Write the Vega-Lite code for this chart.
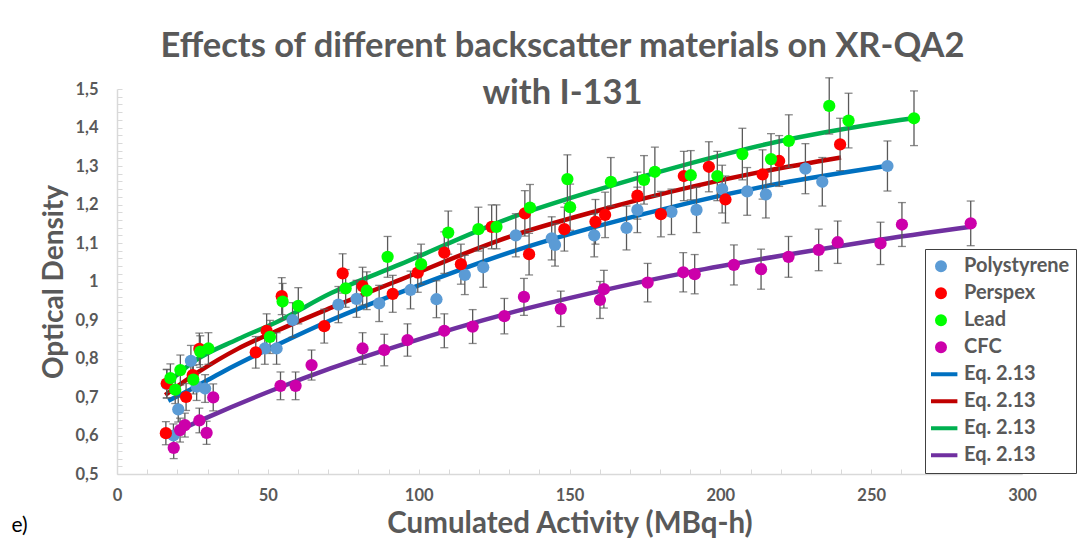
{
  "$schema": "https://vega.github.io/schema/vega-lite/v6.json",
  "width": 905,
  "height": 385,
  "autosize": {"type": "none"},
  "padding": {"left": 117, "top": 89, "right": 63, "bottom": 72},
  "background": "white",
  "config": {
    "view": {"stroke": null},
    "font": "Lato",
    "axisX": {
      "labelOverlap": false, "labelFlush": false,
      "labelFont": "Lato", "labelFontSize": 16.5, "labelFontWeight": "bold", "labelColor": "#595959",
      "labelPadding": 18,
      "titleFont": "Lato", "titleFontSize": 29.5, "titleFontWeight": "bold", "titleColor": "#595959",
      "titlePadding": 6,
      "domainColor": "#D9D9D9", "domainWidth": 1.5, "tickColor": "#D9D9D9", "tickSize": -5, "grid": false
    },
    "axisY": {
      "labelOverlap": false, "labelFlush": false,
      "labelFont": "Lato", "labelFontSize": 16.5, "labelFontWeight": "bold", "labelColor": "#595959",
      "labelPadding": 24,
      "titleFont": "Lato", "titleFontSize": 28, "titleFontWeight": "bold", "titleColor": "#595959",
      "titlePadding": 6,
      "domainColor": "#D9D9D9", "domainWidth": 1.5, "tickColor": "#D9D9D9", "tickSize": -5, "grid": false
    }
  },
  "title": {
    "text": ["Effects of different backscatter materials on XR-QA2", "with I-131"],
    "font": "Lato", "fontSize": 34.5, "fontWeight": "bold", "color": "#595959",
    "anchor": "middle", "lineHeight": 47, "offset": -34, "dx": -7
  },
  "datasets": {
    "pts": [
      {"k": "Polystyrene", "x": 16.5, "y": 0.734, "e": 0.037},
      {"k": "Polystyrene", "x": 18.7, "y": 0.6, "e": 0.03},
      {"k": "Polystyrene", "x": 20.3, "y": 0.668, "e": 0.033},
      {"k": "Polystyrene", "x": 24.5, "y": 0.794, "e": 0.04},
      {"k": "Polystyrene", "x": 26.4, "y": 0.727, "e": 0.036},
      {"k": "Polystyrene", "x": 29.2, "y": 0.722, "e": 0.036},
      {"k": "Polystyrene", "x": 49, "y": 0.826, "e": 0.041},
      {"k": "Polystyrene", "x": 52.9, "y": 0.826, "e": 0.041},
      {"k": "Polystyrene", "x": 58.2, "y": 0.9, "e": 0.045},
      {"k": "Polystyrene", "x": 73.4, "y": 0.94, "e": 0.047},
      {"k": "Polystyrene", "x": 79.4, "y": 0.955, "e": 0.048},
      {"k": "Polystyrene", "x": 86.9, "y": 0.943, "e": 0.047},
      {"k": "Polystyrene", "x": 97.3, "y": 0.978, "e": 0.049},
      {"k": "Polystyrene", "x": 105.9, "y": 0.954, "e": 0.048},
      {"k": "Polystyrene", "x": 115.3, "y": 1.017, "e": 0.051},
      {"k": "Polystyrene", "x": 121.4, "y": 1.037, "e": 0.052},
      {"k": "Polystyrene", "x": 132.2, "y": 1.12, "e": 0.056},
      {"k": "Polystyrene", "x": 144.1, "y": 1.112, "e": 0.056},
      {"k": "Polystyrene", "x": 145.2, "y": 1.095, "e": 0.055},
      {"k": "Polystyrene", "x": 158.2, "y": 1.12, "e": 0.056},
      {"k": "Polystyrene", "x": 168.9, "y": 1.139, "e": 0.057},
      {"k": "Polystyrene", "x": 172.5, "y": 1.186, "e": 0.059},
      {"k": "Polystyrene", "x": 183.8, "y": 1.181, "e": 0.059},
      {"k": "Polystyrene", "x": 192.1, "y": 1.186, "e": 0.059},
      {"k": "Polystyrene", "x": 200.6, "y": 1.24, "e": 0.062},
      {"k": "Polystyrene", "x": 208.9, "y": 1.234, "e": 0.062},
      {"k": "Polystyrene", "x": 215.1, "y": 1.226, "e": 0.061},
      {"k": "Polystyrene", "x": 228.2, "y": 1.293, "e": 0.065},
      {"k": "Polystyrene", "x": 233.8, "y": 1.259, "e": 0.063},
      {"k": "Polystyrene", "x": 255.4, "y": 1.3, "e": 0.065},
      {"k": "Perspex", "x": 16.2, "y": 0.606, "e": 0.03},
      {"k": "Perspex", "x": 16.5, "y": 0.735, "e": 0.037},
      {"k": "Perspex", "x": 22.9, "y": 0.7, "e": 0.035},
      {"k": "Perspex", "x": 25.1, "y": 0.757, "e": 0.038},
      {"k": "Perspex", "x": 27.3, "y": 0.825, "e": 0.041},
      {"k": "Perspex", "x": 46, "y": 0.816, "e": 0.041},
      {"k": "Perspex", "x": 49.6, "y": 0.872, "e": 0.044},
      {"k": "Perspex", "x": 54.6, "y": 0.962, "e": 0.048},
      {"k": "Perspex", "x": 68.7, "y": 0.884, "e": 0.044},
      {"k": "Perspex", "x": 74.8, "y": 1.021, "e": 0.051},
      {"k": "Perspex", "x": 81.4, "y": 0.988, "e": 0.049},
      {"k": "Perspex", "x": 91.4, "y": 0.968, "e": 0.048},
      {"k": "Perspex", "x": 99.7, "y": 1.023, "e": 0.051},
      {"k": "Perspex", "x": 108.5, "y": 1.075, "e": 0.054},
      {"k": "Perspex", "x": 114, "y": 1.045, "e": 0.052},
      {"k": "Perspex", "x": 124.2, "y": 1.142, "e": 0.057},
      {"k": "Perspex", "x": 135.2, "y": 1.177, "e": 0.059},
      {"k": "Perspex", "x": 136.6, "y": 1.071, "e": 0.054},
      {"k": "Perspex", "x": 148.3, "y": 1.136, "e": 0.057},
      {"k": "Perspex", "x": 158.6, "y": 1.155, "e": 0.058},
      {"k": "Perspex", "x": 161.8, "y": 1.173, "e": 0.059},
      {"k": "Perspex", "x": 172.5, "y": 1.223, "e": 0.061},
      {"k": "Perspex", "x": 180.3, "y": 1.175, "e": 0.059},
      {"k": "Perspex", "x": 187.9, "y": 1.274, "e": 0.064},
      {"k": "Perspex", "x": 196.2, "y": 1.298, "e": 0.065},
      {"k": "Perspex", "x": 201.7, "y": 1.213, "e": 0.061},
      {"k": "Perspex", "x": 214, "y": 1.278, "e": 0.064},
      {"k": "Perspex", "x": 219.5, "y": 1.313, "e": 0.066},
      {"k": "Perspex", "x": 239.7, "y": 1.356, "e": 0.068},
      {"k": "Lead", "x": 17.7, "y": 0.749, "e": 0.037},
      {"k": "Lead", "x": 19.3, "y": 0.719, "e": 0.036},
      {"k": "Lead", "x": 21, "y": 0.77, "e": 0.039},
      {"k": "Lead", "x": 25.3, "y": 0.745, "e": 0.037},
      {"k": "Lead", "x": 27.6, "y": 0.818, "e": 0.041},
      {"k": "Lead", "x": 30.3, "y": 0.826, "e": 0.041},
      {"k": "Lead", "x": 50.7, "y": 0.856, "e": 0.043},
      {"k": "Lead", "x": 54.9, "y": 0.948, "e": 0.047},
      {"k": "Lead", "x": 60.1, "y": 0.937, "e": 0.047},
      {"k": "Lead", "x": 75.8, "y": 0.982, "e": 0.049},
      {"k": "Lead", "x": 82.8, "y": 0.976, "e": 0.049},
      {"k": "Lead", "x": 89.7, "y": 1.064, "e": 0.053},
      {"k": "Lead", "x": 100.8, "y": 1.045, "e": 0.052},
      {"k": "Lead", "x": 109.8, "y": 1.127, "e": 0.056},
      {"k": "Lead", "x": 119.8, "y": 1.136, "e": 0.057},
      {"k": "Lead", "x": 125.8, "y": 1.142, "e": 0.057},
      {"k": "Lead", "x": 136.9, "y": 1.192, "e": 0.06},
      {"k": "Lead", "x": 149.3, "y": 1.266, "e": 0.063},
      {"k": "Lead", "x": 150.2, "y": 1.193, "e": 0.06},
      {"k": "Lead", "x": 163.7, "y": 1.259, "e": 0.063},
      {"k": "Lead", "x": 174.7, "y": 1.264, "e": 0.063},
      {"k": "Lead", "x": 178.3, "y": 1.285, "e": 0.064},
      {"k": "Lead", "x": 190.2, "y": 1.276, "e": 0.064},
      {"k": "Lead", "x": 199, "y": 1.274, "e": 0.064},
      {"k": "Lead", "x": 207.3, "y": 1.331, "e": 0.067},
      {"k": "Lead", "x": 216.8, "y": 1.318, "e": 0.066},
      {"k": "Lead", "x": 222.7, "y": 1.365, "e": 0.068},
      {"k": "Lead", "x": 236.1, "y": 1.456, "e": 0.073},
      {"k": "Lead", "x": 242.5, "y": 1.418, "e": 0.071},
      {"k": "Lead", "x": 264.2, "y": 1.424, "e": 0.071},
      {"k": "CFC", "x": 18.8, "y": 0.568, "e": 0.028},
      {"k": "CFC", "x": 20.9, "y": 0.614, "e": 0.031},
      {"k": "CFC", "x": 22.5, "y": 0.627, "e": 0.031},
      {"k": "CFC", "x": 27.3, "y": 0.639, "e": 0.032},
      {"k": "CFC", "x": 29.7, "y": 0.607, "e": 0.03},
      {"k": "CFC", "x": 31.9, "y": 0.699, "e": 0.035},
      {"k": "CFC", "x": 54.2, "y": 0.729, "e": 0.036},
      {"k": "CFC", "x": 59.2, "y": 0.729, "e": 0.036},
      {"k": "CFC", "x": 64.5, "y": 0.783, "e": 0.039},
      {"k": "CFC", "x": 81.4, "y": 0.826, "e": 0.041},
      {"k": "CFC", "x": 88.6, "y": 0.822, "e": 0.041},
      {"k": "CFC", "x": 96.3, "y": 0.848, "e": 0.042},
      {"k": "CFC", "x": 108.5, "y": 0.872, "e": 0.044},
      {"k": "CFC", "x": 117.9, "y": 0.883, "e": 0.044},
      {"k": "CFC", "x": 128.4, "y": 0.91, "e": 0.046},
      {"k": "CFC", "x": 134.9, "y": 0.96, "e": 0.048},
      {"k": "CFC", "x": 147.1, "y": 0.929, "e": 0.046},
      {"k": "CFC", "x": 160.1, "y": 0.952, "e": 0.048},
      {"k": "CFC", "x": 161.4, "y": 0.98, "e": 0.049},
      {"k": "CFC", "x": 175.9, "y": 0.997, "e": 0.05},
      {"k": "CFC", "x": 187.7, "y": 1.024, "e": 0.051},
      {"k": "CFC", "x": 191.5, "y": 1.019, "e": 0.051},
      {"k": "CFC", "x": 204.5, "y": 1.043, "e": 0.052},
      {"k": "CFC", "x": 213.5, "y": 1.032, "e": 0.052},
      {"k": "CFC", "x": 222.6, "y": 1.064, "e": 0.053},
      {"k": "CFC", "x": 232.6, "y": 1.082, "e": 0.054},
      {"k": "CFC", "x": 238.9, "y": 1.102, "e": 0.055},
      {"k": "CFC", "x": 253.1, "y": 1.099, "e": 0.055},
      {"k": "CFC", "x": 260.2, "y": 1.148, "e": 0.057},
      {"k": "CFC", "x": 283, "y": 1.151, "e": 0.058}
    ],
    "fits": [
      {"k": "Eq. 2.13 (Polystyrene)", "x": 17, "y": 0.69},
      {"k": "Eq. 2.13 (Polystyrene)", "x": 25, "y": 0.722},
      {"k": "Eq. 2.13 (Polystyrene)", "x": 35, "y": 0.765},
      {"k": "Eq. 2.13 (Polystyrene)", "x": 53, "y": 0.835},
      {"k": "Eq. 2.13 (Polystyrene)", "x": 71, "y": 0.9},
      {"k": "Eq. 2.13 (Polystyrene)", "x": 100, "y": 0.99},
      {"k": "Eq. 2.13 (Polystyrene)", "x": 130, "y": 1.075},
      {"k": "Eq. 2.13 (Polystyrene)", "x": 160, "y": 1.145},
      {"k": "Eq. 2.13 (Polystyrene)", "x": 190, "y": 1.205},
      {"k": "Eq. 2.13 (Polystyrene)", "x": 220, "y": 1.255},
      {"k": "Eq. 2.13 (Polystyrene)", "x": 255, "y": 1.3},
      {"k": "Eq. 2.13 (Perspex)", "x": 16, "y": 0.705},
      {"k": "Eq. 2.13 (Perspex)", "x": 27, "y": 0.765},
      {"k": "Eq. 2.13 (Perspex)", "x": 40, "y": 0.825},
      {"k": "Eq. 2.13 (Perspex)", "x": 53, "y": 0.872},
      {"k": "Eq. 2.13 (Perspex)", "x": 71, "y": 0.932},
      {"k": "Eq. 2.13 (Perspex)", "x": 94, "y": 1.005},
      {"k": "Eq. 2.13 (Perspex)", "x": 130, "y": 1.116},
      {"k": "Eq. 2.13 (Perspex)", "x": 160, "y": 1.185},
      {"k": "Eq. 2.13 (Perspex)", "x": 190, "y": 1.245},
      {"k": "Eq. 2.13 (Perspex)", "x": 215, "y": 1.287},
      {"k": "Eq. 2.13 (Perspex)", "x": 240, "y": 1.322},
      {"k": "Eq. 2.13 (Lead)", "x": 18, "y": 0.745},
      {"k": "Eq. 2.13 (Lead)", "x": 26, "y": 0.795},
      {"k": "Eq. 2.13 (Lead)", "x": 40, "y": 0.85},
      {"k": "Eq. 2.13 (Lead)", "x": 53, "y": 0.895},
      {"k": "Eq. 2.13 (Lead)", "x": 71, "y": 0.97},
      {"k": "Eq. 2.13 (Lead)", "x": 94, "y": 1.045},
      {"k": "Eq. 2.13 (Lead)", "x": 130, "y": 1.164},
      {"k": "Eq. 2.13 (Lead)", "x": 160, "y": 1.24},
      {"k": "Eq. 2.13 (Lead)", "x": 190, "y": 1.307},
      {"k": "Eq. 2.13 (Lead)", "x": 220, "y": 1.365},
      {"k": "Eq. 2.13 (Lead)", "x": 250, "y": 1.408},
      {"k": "Eq. 2.13 (Lead)", "x": 264, "y": 1.424},
      {"k": "Eq. 2.13 (CFC)", "x": 21, "y": 0.615},
      {"k": "Eq. 2.13 (CFC)", "x": 30, "y": 0.647},
      {"k": "Eq. 2.13 (CFC)", "x": 53, "y": 0.722},
      {"k": "Eq. 2.13 (CFC)", "x": 71, "y": 0.775},
      {"k": "Eq. 2.13 (CFC)", "x": 94, "y": 0.835},
      {"k": "Eq. 2.13 (CFC)", "x": 130, "y": 0.918},
      {"k": "Eq. 2.13 (CFC)", "x": 160, "y": 0.975},
      {"k": "Eq. 2.13 (CFC)", "x": 190, "y": 1.025},
      {"k": "Eq. 2.13 (CFC)", "x": 220, "y": 1.067},
      {"k": "Eq. 2.13 (CFC)", "x": 250, "y": 1.105},
      {"k": "Eq. 2.13 (CFC)", "x": 283, "y": 1.142}
    ],
    "note": [{"t": "e)"}]
  },
  "layer": [
    {
      "data": {"name": "fits"},
      "mark": {"type": "line", "strokeWidth": 4.5, "interpolate": "monotone"},
      "encoding": {
        "x": {
          "field": "x", "type": "quantitative", "title": "Cumulated Activity (MBq-h)",
          "scale": {"domain": [0, 300], "nice": false, "zero": false},
          "axis": {
            "values": [0, 10, 20, 30, 40, 50, 60, 70, 80, 90, 100, 110, 120, 130, 140, 150, 160, 170, 180, 190, 200, 210, 220, 230, 240, 250, 260, 270, 280, 290, 300],
            "labelExpr": "datum.value % 50 === 0 ? datum.label : ''",
            "labelOverlap": false
          }
        },
        "y": {
          "field": "y", "type": "quantitative", "title": "Optical Density",
          "scale": {"domain": [0.5, 1.5], "nice": false, "zero": false},
          "axis": {
            "values": [0.5, 0.52, 0.54, 0.56, 0.58, 0.6, 0.62, 0.64, 0.66, 0.68, 0.7, 0.72, 0.74, 0.76, 0.78, 0.8, 0.82, 0.84, 0.86, 0.88, 0.9, 0.92, 0.94, 0.96, 0.98, 1, 1.02, 1.04, 1.06, 1.08, 1.1, 1.12, 1.14, 1.16, 1.18, 1.2, 1.22, 1.24, 1.26, 1.28, 1.3, 1.32, 1.34, 1.36, 1.38, 1.4, 1.42, 1.44, 1.46, 1.48, 1.5],
            "labelExpr": "abs(datum.value * 10 - round(datum.value * 10)) < 0.001 ? replace(format(datum.value, '.1~f'), '.', ',') : ''",
            "labelOverlap": false
          }
        },
        "color": {
          "field": "k", "type": "nominal",
          "scale": {
            "domain": ["Polystyrene", "Perspex", "Lead", "CFC", "Eq. 2.13 (Polystyrene)", "Eq. 2.13 (Perspex)", "Eq. 2.13 (Lead)", "Eq. 2.13 (CFC)"],
            "range": ["#5B9BD5", "#FF0000", "#00FF00", "#CC00AA", "#0070C0", "#C00000", "#00B050", "#7030A0"]
          },
          "legend": {
            "title": null, "orient": "none", "legendX": 808, "legendY": 160,
            "padding": 6, "strokeColor": "#404040", "fillColor": "white",
            "labelFont": "Lato", "labelFontSize": 20, "labelFontWeight": "bold", "labelColor": "#595959",
            "labelExpr": "indexof(datum.label, 'Eq') === 0 ? 'Eq. 2.13' : datum.label",
            "symbolSize": 64, "symbolStrokeWidth": 4, "labelOffset": 13, "rowPadding": 4, "clipHeight": 22.5
          }
        }
      }
    },
    {
      "data": {"name": "pts"},
      "mark": {"type": "errorbar", "color": "#595959", "thickness": 1.3, "ticks": {"size": 8, "color": "#595959", "thickness": 1.3}},
      "encoding": {
        "x": {
          "field": "x", "type": "quantitative", "title": "Cumulated Activity (MBq-h)",
          "scale": {"domain": [0, 300], "nice": false, "zero": false},
          "axis": {
            "values": [0, 10, 20, 30, 40, 50, 60, 70, 80, 90, 100, 110, 120, 130, 140, 150, 160, 170, 180, 190, 200, 210, 220, 230, 240, 250, 260, 270, 280, 290, 300],
            "labelExpr": "datum.value % 50 === 0 ? datum.label : ''",
            "labelOverlap": false
          }
        },
        "y": {
          "field": "y", "type": "quantitative", "title": "Optical Density",
          "scale": {"domain": [0.5, 1.5], "nice": false, "zero": false},
          "axis": {
            "values": [0.5, 0.52, 0.54, 0.56, 0.58, 0.6, 0.62, 0.64, 0.66, 0.68, 0.7, 0.72, 0.74, 0.76, 0.78, 0.8, 0.82, 0.84, 0.86, 0.88, 0.9, 0.92, 0.94, 0.96, 0.98, 1, 1.02, 1.04, 1.06, 1.08, 1.1, 1.12, 1.14, 1.16, 1.18, 1.2, 1.22, 1.24, 1.26, 1.28, 1.3, 1.32, 1.34, 1.36, 1.38, 1.4, 1.42, 1.44, 1.46, 1.48, 1.5],
            "labelExpr": "abs(datum.value * 10 - round(datum.value * 10)) < 0.001 ? replace(format(datum.value, '.1~f'), '.', ',') : ''",
            "labelOverlap": false
          }
        },
        "yError": {"field": "e"}
      }
    },
    {
      "data": {"name": "pts"},
      "mark": {"type": "point", "filled": true, "size": 150, "opacity": 1},
      "encoding": {
        "x": {
          "field": "x", "type": "quantitative", "title": "Cumulated Activity (MBq-h)",
          "scale": {"domain": [0, 300], "nice": false, "zero": false},
          "axis": {
            "values": [0, 10, 20, 30, 40, 50, 60, 70, 80, 90, 100, 110, 120, 130, 140, 150, 160, 170, 180, 190, 200, 210, 220, 230, 240, 250, 260, 270, 280, 290, 300],
            "labelExpr": "datum.value % 50 === 0 ? datum.label : ''",
            "labelOverlap": false
          }
        },
        "y": {
          "field": "y", "type": "quantitative", "title": "Optical Density",
          "scale": {"domain": [0.5, 1.5], "nice": false, "zero": false},
          "axis": {
            "values": [0.5, 0.52, 0.54, 0.56, 0.58, 0.6, 0.62, 0.64, 0.66, 0.68, 0.7, 0.72, 0.74, 0.76, 0.78, 0.8, 0.82, 0.84, 0.86, 0.88, 0.9, 0.92, 0.94, 0.96, 0.98, 1, 1.02, 1.04, 1.06, 1.08, 1.1, 1.12, 1.14, 1.16, 1.18, 1.2, 1.22, 1.24, 1.26, 1.28, 1.3, 1.32, 1.34, 1.36, 1.38, 1.4, 1.42, 1.44, 1.46, 1.48, 1.5],
            "labelExpr": "abs(datum.value * 10 - round(datum.value * 10)) < 0.001 ? replace(format(datum.value, '.1~f'), '.', ',') : ''",
            "labelOverlap": false
          }
        },
        "color": {"field": "k", "type": "nominal"},
        "shape": {
          "field": "k", "type": "nominal",
          "scale": {
            "domain": ["Polystyrene", "Perspex", "Lead", "CFC", "Eq. 2.13 (Polystyrene)", "Eq. 2.13 (Perspex)", "Eq. 2.13 (Lead)", "Eq. 2.13 (CFC)"],
            "range": ["circle", "circle", "circle", "circle", "M-4.1,0H4.1", "M-4.1,0H4.1", "M-4.1,0H4.1", "M-4.1,0H4.1"]
          }
        }
      }
    },
    {
      "data": {"name": "note"},
      "mark": {"type": "text", "font": "Lato", "fontSize": 21, "fill": "#000000", "align": "left", "baseline": "middle", "clip": false},
      "encoding": {
        "x": {
          "datum": -35, "type": "quantitative", "title": "Cumulated Activity (MBq-h)",
          "axis": {
            "values": [0, 10, 20, 30, 40, 50, 60, 70, 80, 90, 100, 110, 120, 130, 140, 150, 160, 170, 180, 190, 200, 210, 220, 230, 240, 250, 260, 270, 280, 290, 300],
            "labelExpr": "datum.value % 50 === 0 ? datum.label : ''",
            "labelOverlap": false
          }
        },
        "y": {
          "datum": 0.365, "type": "quantitative", "title": "Optical Density",
          "axis": {
            "values": [0.5, 0.52, 0.54, 0.56, 0.58, 0.6, 0.62, 0.64, 0.66, 0.68, 0.7, 0.72, 0.74, 0.76, 0.78, 0.8, 0.82, 0.84, 0.86, 0.88, 0.9, 0.92, 0.94, 0.96, 0.98, 1, 1.02, 1.04, 1.06, 1.08, 1.1, 1.12, 1.14, 1.16, 1.18, 1.2, 1.22, 1.24, 1.26, 1.28, 1.3, 1.32, 1.34, 1.36, 1.38, 1.4, 1.42, 1.44, 1.46, 1.48, 1.5],
            "labelExpr": "abs(datum.value * 10 - round(datum.value * 10)) < 0.001 ? replace(format(datum.value, '.1~f'), '.', ',') : ''",
            "labelOverlap": false
          }
        },
        "text": {"field": "t", "type": "nominal"}
      }
    }
  ]
}
